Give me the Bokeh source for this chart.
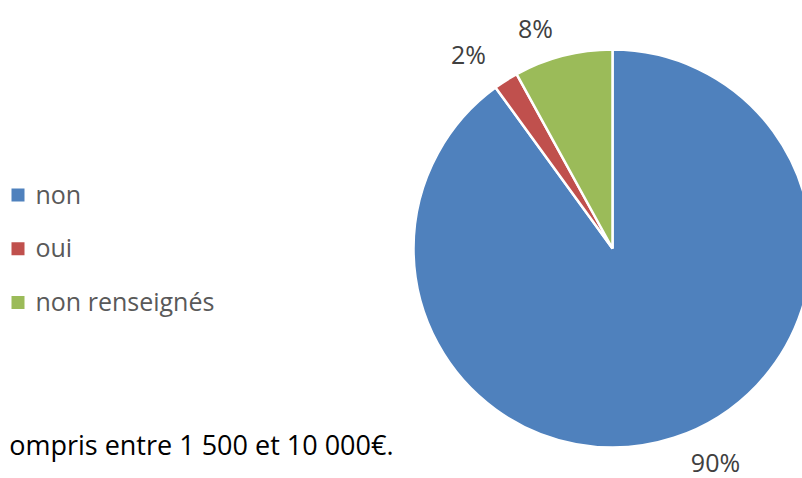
import math
from bokeh.plotting import figure
from bokeh.models import Range1d, ColumnDataSource
from bokeh.core.properties import value
from bokeh.embed import file_html
from bokeh.resources import INLINE

# ---- data ----
categories = ["non", "oui", "non renseignés"]
values = [90, 2, 8]
colors = ["#4F81BD", "#C0504D", "#9BBB59"]
footer_text = "ompris entre 1 500 et 10 000€."

# ---- layout (page pixels) ----
W, H = 802, 478
OFF = 0
TXT_DY = -8   # calibration of text baseline
def X(px):
    return px - OFF
def Y(py):
    return (H + OFF) - py

cx, cy, R = 612, 248, 199
legend_sq_x, legend_top, legend_step, sq_size = 17.5, 194.5, 53.75, 13
legend_text_x = 35
label_pos = [(715, 469), (468, 61.5), (535, 35)]   # anchors for 90%, 2%, 8%
footer_pos = (393, 452)
FONT = "Open Sans"

p = figure(width=W, height=H, output_backend="svg", toolbar_location=None,
           x_range=Range1d(0, W), y_range=Range1d(0, H),
           x_axis_location=None, y_axis_location=None, min_border=0)
p.grid.visible = False
p.outline_line_color = None
p.background_fill_color = "white"
p.border_fill_color = "white"

total = float(sum(values))
starts, ends = [], []
cum = 0.0
for v in values:
    a0 = math.pi / 2 - (cum + v) / total * 2 * math.pi
    a1 = math.pi / 2 - cum / total * 2 * math.pi
    starts.append(a0)
    ends.append(a1)
    cum += v

src = ColumnDataSource(dict(x=[X(cx)] * len(values), y=[Y(cy)] * len(values),
                            start=starts, end=ends, color=colors))
p.wedge(x="x", y="y", radius=R, radius_units="screen", start_angle="start",
        end_angle="end", fill_color="color", line_color="white", line_width=2.5,
        source=src)

# data labels
labels = [f"{v}%" for v in values]
p.text(x=[X(px) for px, _ in label_pos], y=[Y(py + TXT_DY) for _, py in label_pos],
       text=labels, text_font=value(FONT), text_font_size="25px",
       text_color="#404040", text_align="center", text_baseline="alphabetic")

# legend
sq_y = [legend_top + i * legend_step for i in range(len(categories))]
p.scatter(x=[X(legend_sq_x)] * len(categories), y=[Y(v) for v in sq_y],
          marker="square", size=sq_size, fill_color=colors, line_color=None)
p.text(x=[X(legend_text_x)] * len(categories), y=[Y(v + 6.5 + TXT_DY) for v in sq_y],
       text=categories, text_font=value(FONT), text_font_size="25px",
       text_color="#595959", text_align="left", text_baseline="alphabetic")

# footer text (body text of the document, cropped)
p.text(x=[X(footer_pos[0])], y=[Y(footer_pos[1] + TXT_DY)], text=[footer_text],
       text_font=value(FONT), text_font_size="27px", text_color="#000000",
       text_align="right", text_baseline="alphabetic")

open("out.html", "w").write(file_html(p, INLINE))
